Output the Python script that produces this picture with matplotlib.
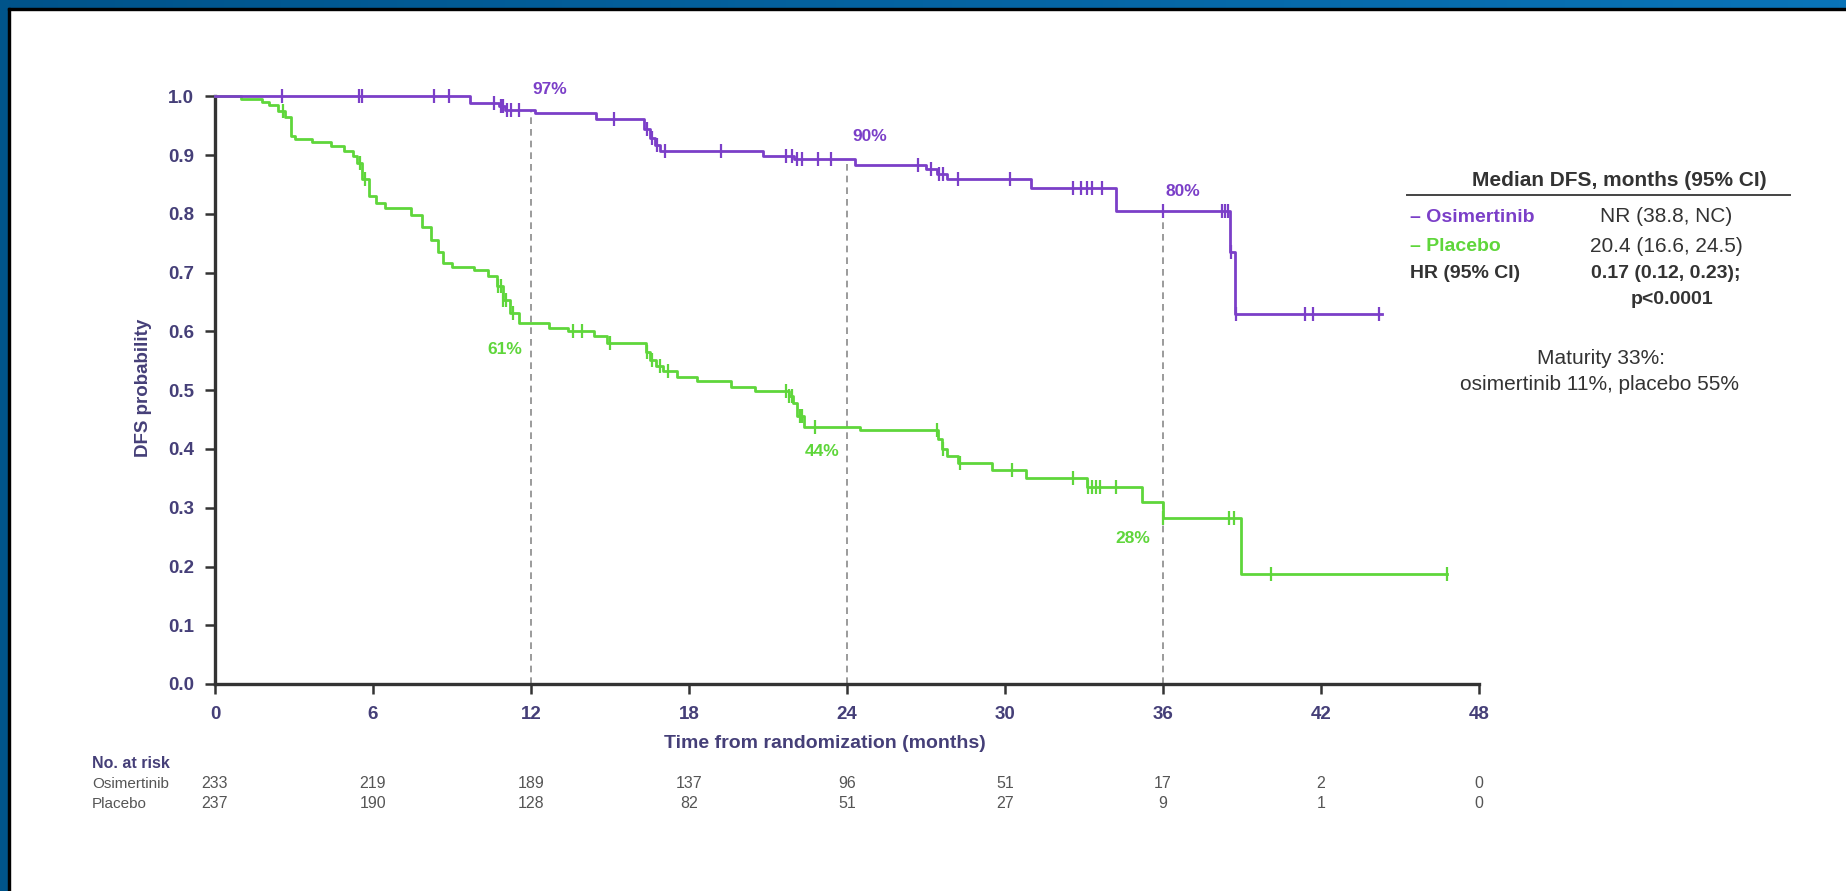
import numpy as np
import matplotlib
matplotlib.use('Agg')
import matplotlib.pyplot as plt
from matplotlib.patches import Rectangle
from matplotlib.transforms import blended_transform_factory

plt.rcParams['font.family'] = ['Liberation Sans', 'DejaVu Sans']

# Kaplan-Meier steps (time in months, survival after the drop)
osi_times = [0, 9.7, 10.8, 11.0, 12.15, 14.45, 16.3, 16.5, 16.7, 16.9, 20.8, 22.0,
             24.3, 27.0, 27.4, 27.8, 31.0, 34.2, 38.55, 38.72]
osi_surv = [1.0, 0.989, 0.983, 0.977, 0.972, 0.961, 0.945, 0.930, 0.918, 0.908, 0.899, 0.894,
            0.884, 0.877, 0.868, 0.860, 0.844, 0.805, 0.735, 0.630]
osi_end = 44.3
osi_cens = [2.55, 5.45, 5.6, 8.3, 8.9, 10.6, 10.85, 10.95, 11.1, 11.25, 11.55, 15.15,
            16.4, 16.6, 16.8, 17.1, 19.2, 21.7, 21.9, 22.1, 22.3, 22.9, 23.4, 26.7,
            27.2, 27.5, 27.65, 28.2, 30.2, 32.6, 32.9, 33.1, 33.3, 33.7, 36.0,
            38.25, 38.35, 38.45, 38.6, 38.78, 41.4, 41.7, 44.2]

pla_times = [0, 1.0, 1.8, 2.05, 2.4, 2.65, 2.9, 3.05, 3.7, 4.4, 4.9, 5.25, 5.4, 5.6,
             5.85, 6.1, 6.45, 7.45, 7.85, 8.2, 8.45, 8.65, 9.0, 9.85, 10.35, 10.7,
             10.95, 11.2, 11.55, 12.7, 13.4, 14.4, 14.9, 16.35, 16.5, 16.75, 17.0,
             17.55, 18.3, 19.6, 20.5, 21.8, 21.95, 22.1, 22.35, 24.5, 27.45, 27.6,
             27.8, 28.2, 29.5, 30.8, 33.1, 35.2, 36.0, 38.95]
pla_surv = [1.0, 0.996, 0.990, 0.985, 0.975, 0.965, 0.932, 0.928, 0.922, 0.915, 0.907,
            0.898, 0.887, 0.859, 0.830, 0.819, 0.810, 0.798, 0.778, 0.756, 0.735, 0.716,
            0.710, 0.705, 0.694, 0.677, 0.654, 0.631, 0.614, 0.606, 0.600, 0.593, 0.580,
            0.565, 0.552, 0.542, 0.532, 0.523, 0.515, 0.506, 0.498, 0.490, 0.478, 0.456,
            0.437, 0.432, 0.417, 0.400, 0.388, 0.376, 0.364, 0.350, 0.336, 0.310, 0.282,
            0.187]
pla_end = 46.8
pla_cens = [2.6, 5.5, 5.7, 10.75, 10.85, 10.95, 11.05, 11.3, 13.6, 13.95, 15.0, 16.4,
            16.6, 16.9, 17.2, 21.7, 21.8, 21.9, 22.2, 22.3, 22.8, 27.4, 27.65, 28.3,
            30.25, 32.6, 33.15, 33.3, 33.45, 33.6, 34.2, 36.0, 38.5, 38.7, 40.1, 46.8]

landmarks = [12, 24, 36]
osi_pct = ['97%', '90%', '80%']
pla_pct = ['61%', '44%', '28%']

risk_times = [0, 6, 12, 18, 24, 30, 36, 42, 48]
risk_osi = [233, 219, 189, 137, 96, 51, 17, 2, 0]
risk_pla = [237, 190, 128, 82, 51, 27, 9, 1, 0]

PURPLE = '#7b3fc8'
GREEN = '#5fd63b'
DARK = '#453f78'
GREY = '#555555'


def step_value(times, surv, t):
    i = np.searchsorted(times, t, side='right') - 1
    return surv[i]


W, H = 1846, 891
fig = plt.figure(figsize=(W / 100, H / 100), dpi=100)
fig.patch.set_facecolor('white')

# slide frame: blue bands top and left, thin black line inside
grad = fig.add_axes([0, 1 - 8 / H, 1, 8 / H])
grad.imshow(np.linspace(0, 1, 256)[None, :], aspect='auto',
            cmap=matplotlib.colors.LinearSegmentedColormap.from_list('b', ['#00538a', '#0a74b8']))
grad.axis('off')
fig.patches.append(Rectangle((0, 0), 8 / W, 1, transform=fig.transFigure, color='#00548a', zorder=5))
fig.patches.append(Rectangle((8 / W, 1 - 10 / H), 1, 2 / H, transform=fig.transFigure, color='black', zorder=5))
fig.patches.append(Rectangle((8 / W, 0), 2 / W, 1 - 8 / H, transform=fig.transFigure, color='black', zorder=5))

ax = fig.add_axes([215 / W, 207 / H, (1479 - 215) / W, (684 - 96.5) / H])

# curves
ax.step(osi_times + [osi_end], osi_surv + [osi_surv[-1]], where='post', color=PURPLE, lw=2.0, clip_on=False, zorder=4)
ax.step(pla_times + [pla_end], pla_surv + [pla_surv[-1]], where='post', color=GREEN, lw=2.0, clip_on=False, zorder=3)
ax.plot(osi_cens, [step_value(osi_times, osi_surv, c) for c in osi_cens], ls='none', marker='|',
        ms=10, mew=1.6, color=PURPLE, clip_on=False, zorder=4)
ax.plot(pla_cens, [step_value(pla_times, pla_surv, c) for c in pla_cens], ls='none', marker='|',
        ms=10, mew=1.6, color=GREEN, clip_on=False, zorder=3)

# landmark lines and labels
for t in landmarks:
    ax.plot([t, t], [0, step_value(osi_times, osi_surv, t)], color='#8a8a8a', lw=1.2, ls=(0, (4, 3)), zorder=2)
pct_kw = dict(fontsize=12.5, fontweight='bold', va='center')
ax.text(12.05, 1.012, osi_pct[0], color=PURPLE, ha='left', **pct_kw)
ax.text(24.2, 0.932, osi_pct[1], color=PURPLE, ha='left', **pct_kw)
ax.text(36.1, 0.838, osi_pct[2], color=PURPLE, ha='left', **pct_kw)
ax.text(11.65, 0.569, pla_pct[0], color=GREEN, ha='right', **pct_kw)
ax.text(23.7, 0.396, pla_pct[1], color=GREEN, ha='right', **pct_kw)
ax.text(35.5, 0.248, pla_pct[2], color=GREEN, ha='right', **pct_kw)

# axes styling
ax.set_xlim(0, 48)
ax.set_ylim(0, 1)
ax.set_xticks(risk_times)
ax.set_yticks(np.round(np.arange(0, 1.01, 0.1), 1))
ax.set_yticklabels([f'{v:.1f}' for v in np.arange(0, 1.01, 0.1)])
for s in ['top', 'right']:
    ax.spines[s].set_visible(False)
for s in ['left', 'bottom']:
    ax.spines[s].set_linewidth(2.4)
    ax.spines[s].set_color('#333333')
ax.tick_params(direction='out', length=7, width=1.8, color='#333333', labelcolor=DARK, labelsize=13.5)
ax.tick_params(axis='x', pad=9)
ax.tick_params(axis='y', pad=8)
for lab in ax.get_xticklabels() + ax.get_yticklabels():
    lab.set_fontweight('bold')

fig.text(144 / W, 1 - 388 / H, 'DFS probability', rotation=90, ha='center', va='center',
         color=DARK, fontsize=13.5, fontweight='bold')
fig.text(825 / W, 1 - 744 / H, 'Time from randomization (months)', ha='center', va='center',
         color=DARK, fontsize=14, fontweight='bold')

# number at risk
tr = blended_transform_factory(ax.transData, fig.transFigure)
fig.text(92 / W, 1 - 764 / H, 'No. at risk', ha='left', va='center', color=DARK, fontsize=11.5, fontweight='bold')
fig.text(92 / W, 1 - 784 / H, 'Osimertinib', ha='left', va='center', color=GREY, fontsize=11)
fig.text(92 / W, 1 - 804 / H, 'Placebo', ha='left', va='center', color=GREY, fontsize=11)
for t, a, b in zip(risk_times, risk_osi, risk_pla):
    ax.text(t, 1 - 784 / H, str(a), transform=tr, ha='center', va='center', color=GREY, fontsize=11.5)
    ax.text(t, 1 - 804 / H, str(b), transform=tr, ha='center', va='center', color=GREY, fontsize=11.5)

# summary table on the right
TXT = '#333333'
fig.text(1619 / W, 1 - 181 / H, 'Median DFS, months (95% CI)', ha='center', va='center',
         color=TXT, fontsize=15, fontweight='bold')
fig.add_artist(plt.Line2D([1407 / W, 1790 / W], [1 - 195 / H, 1 - 195 / H], color='#444444', lw=1.4))
fig.text(1410 / W, 1 - 217 / H, '– Osimertinib', ha='left', va='center', color=PURPLE, fontsize=14, fontweight='bold')
fig.text(1666 / W, 1 - 217 / H, 'NR (38.8, NC)', ha='center', va='center', color=TXT, fontsize=15)
fig.text(1410 / W, 1 - 246 / H, '– Placebo', ha='left', va='center', color=GREEN, fontsize=14, fontweight='bold')
fig.text(1666 / W, 1 - 246 / H, '20.4 (16.6, 24.5)', ha='center', va='center', color=TXT, fontsize=15)
fig.text(1410 / W, 1 - 274 / H, 'HR (95% CI)', ha='left', va='center', color=TXT, fontsize=14, fontweight='bold')
fig.text(1666 / W, 1 - 274 / H, '0.17 (0.12, 0.23);', ha='center', va='center', color=TXT, fontsize=14, fontweight='bold')
fig.text(1672 / W, 1 - 300 / H, 'p<0.0001', ha='center', va='center', color=TXT, fontsize=14, fontweight='bold')
fig.text(1601 / W, 1 - 359 / H, 'Maturity 33%:', ha='center', va='center', color=TXT, fontsize=15)
fig.text(1599 / W, 1 - 385 / H, 'osimertinib 11%, placebo 55%', ha='center', va='center', color=TXT, fontsize=15)

fig.savefig('out.png', dpi=100)
